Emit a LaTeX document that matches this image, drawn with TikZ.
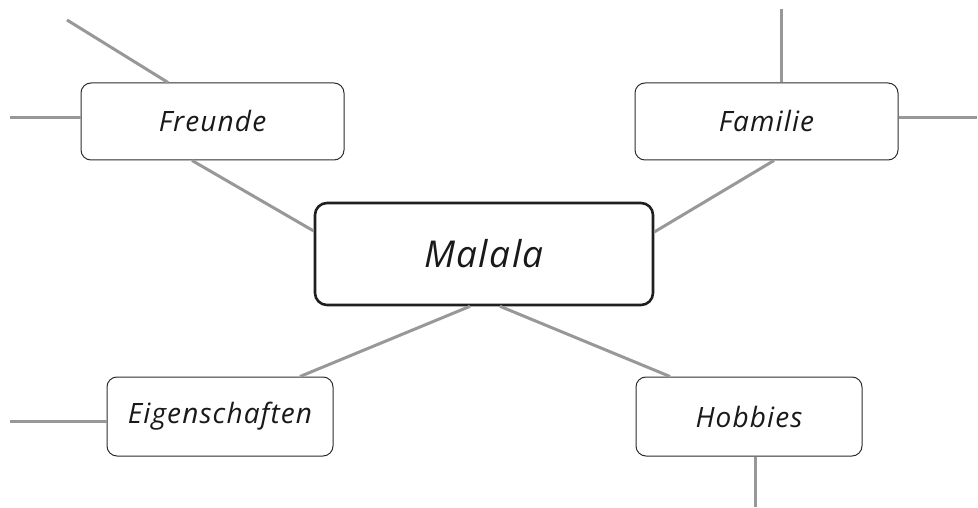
\documentclass[tikz,border=0pt]{standalone}
\usepackage{fontspec}
\setmainfont{Open Sans}[LetterSpace=4]
\usetikzlibrary{calc}
\definecolor{linegray}{RGB}{152,152,154}
\definecolor{boxline}{RGB}{45,45,45}
\tikzset{
  conn/.style={draw=linegray, line width=3pt},
  topic/.style={draw=boxline, line width=1pt, rounded corners=10pt, fill=white,
    inner sep=0pt, font=\fontsize{28}{32}\selectfont\itshape, text=black!90},
  central/.style={draw=black!88, line width=2.6pt, rounded corners=12pt, fill=white,
    inner sep=0pt, font=\fontsize{37}{42}\selectfont\itshape, text=black!90},
}
\begin{document}
\begin{tikzpicture}[x=1pt,y=-1pt]
\useasboundingbox (0,0) rectangle (978,508);
\node[central, minimum width=338pt, minimum height=102pt] (malala) at (484,254) {Malala};
\node[topic, minimum width=263pt, minimum height=77pt] (freunde) at (212.5,121.5) {Freunde};
\node[topic, minimum width=263pt, minimum height=77pt] (familie) at (766.5,121.5) {Familie};
\node[topic, minimum width=226pt, minimum height=79pt] (eigen) at (220,416.5) {Eigenschaften};
\node[topic, minimum width=226pt, minimum height=79pt] (hobbies) at (749,416.5) {Hobbies};
\coordinate (fa) at (67,20);
\coordinate (fb) at (10,118);
\coordinate (ma) at (781,9);
\coordinate (mb) at (977,118);
\coordinate (ea) at (10,421);
\coordinate (ha) at (755,507);
% connectors
\draw[conn] (fa) -- ([xshift=-44.5pt]freunde.north);
\draw[conn] (fb) -- ([yshift=3.5pt]freunde.west);
\draw[conn] ([xshift=-20.5pt]freunde.south) -- ([yshift=23pt]malala.west);
\draw[conn] (ma) -- ([xshift=14.5pt]familie.north);
\draw[conn] (mb) -- ([yshift=3.5pt]familie.east);
\draw[conn] ([xshift=7.5pt]familie.south) -- ([yshift=22pt]malala.east);
\draw[conn] ([xshift=-14pt]malala.south) -- ([xshift=80pt]eigen.north);
\draw[conn] ([xshift=16pt]malala.south) -- ([xshift=-79pt]hobbies.north);
\draw[conn] (ea) -- ([yshift=-4.5pt]eigen.west);
\draw[conn] (ha) -- ([xshift=6pt]hobbies.south);
\end{tikzpicture}
\end{document}
